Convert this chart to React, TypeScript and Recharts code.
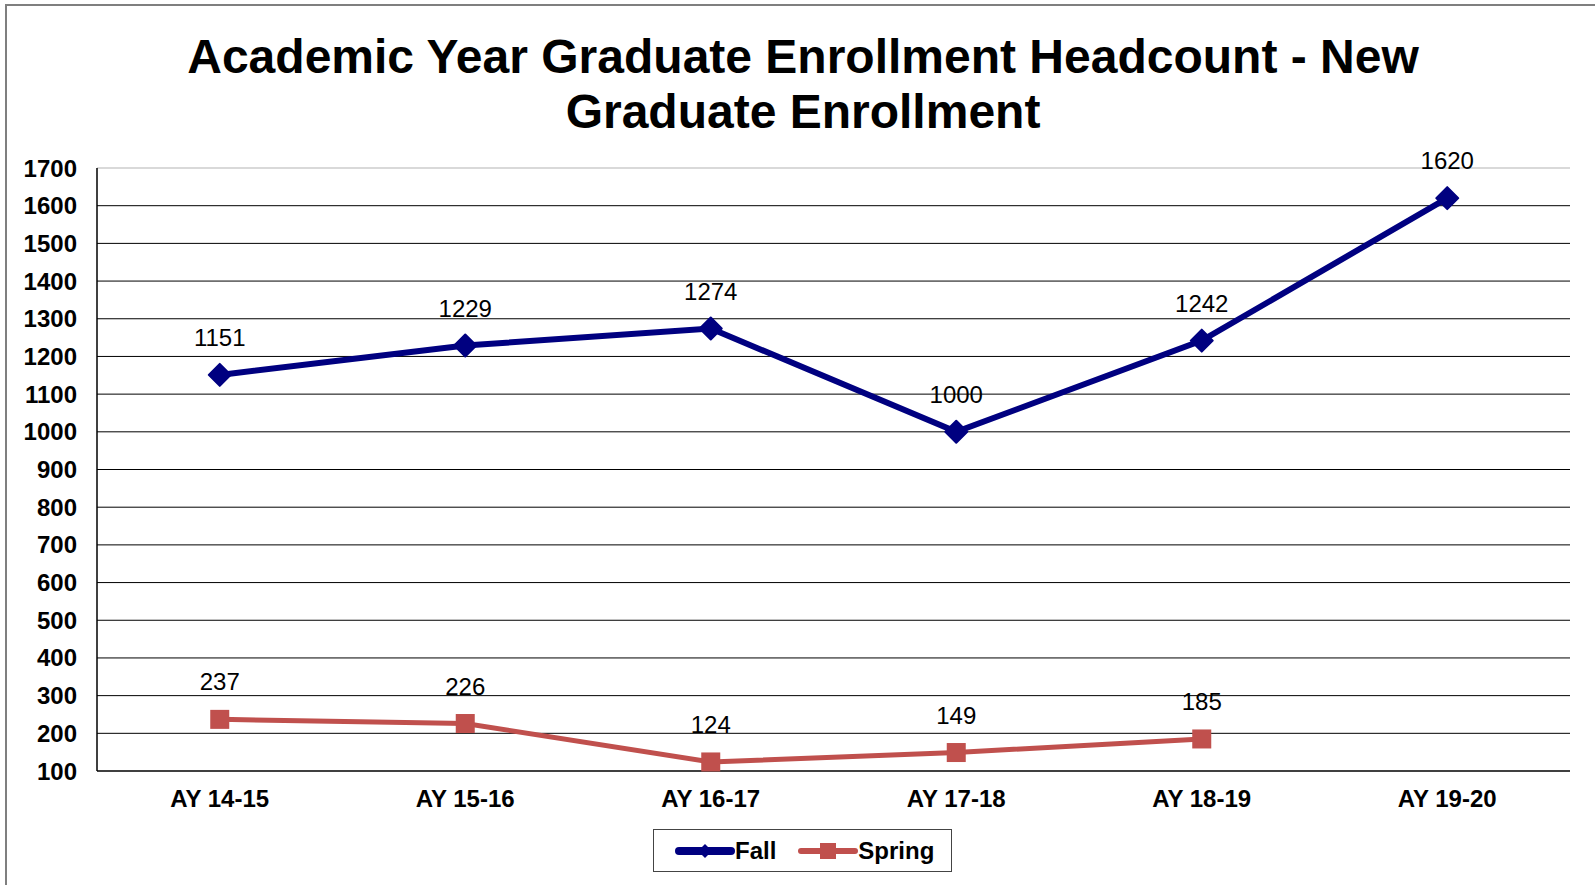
import React from "react";
import {
  LineChart,
  Line,
  XAxis,
  YAxis,
  CartesianGrid,
  LabelList,
} from "recharts";

const years = ["AY 14-15", "AY 15-16", "AY 16-17", "AY 17-18", "AY 18-19", "AY 19-20"];
const fall = [1151, 1229, 1274, 1000, 1242, 1620];
const spring: (number | null)[] = [237, 226, 124, 149, 185, null];
const yTicks = [100, 200, 300, 400, 500, 600, 700, 800, 900, 1000, 1100, 1200, 1300, 1400, 1500, 1600, 1700];
const gridValues = [200, 300, 400, 500, 600, 700, 800, 900, 1000, 1100, 1200, 1300, 1400, 1500, 1600];
const topValue = [1700];

const FALL_COLOR = "#000080";
const SPRING_COLOR = "#C0504D";
const FRAME_COLOR = "#d9d9d9";
const FONT = "'Liberation Sans', Arial, sans-serif";

const data = years.map((year, i) => ({ year, fall: fall[i], spring: spring[i] }));

// diamond marker for Fall
const Diamond = (props: any) => {
  const { cx, cy } = props;
  if (cx == null || cy == null) return null;
  const r = 11;
  return (
    <polygon
      points={`${cx},${cy - r} ${cx + r},${cy} ${cx},${cy + r} ${cx - r},${cy}`}
      fill={FALL_COLOR}
      stroke={FALL_COLOR}
      strokeWidth={2}
      strokeLinejoin="round"
    />
  );
};

// square marker for Spring
const Square = (props: any) => {
  const { cx, cy, value } = props;
  if (cx == null || cy == null || value == null) return null;
  const s = 19;
  return <rect x={cx - s / 2} y={cy - s / 2} width={s} height={s} fill={SPRING_COLOR} />;
};

export default function App() {
  return (
    <div
      style={{
        position: "absolute",
        left: 0,
        top: 0,
        width: 1595,
        height: 885,
        overflow: "hidden",
        background: "#fff",
        fontFamily: FONT,
      }}
    >
      <div
        style={{
          position: "absolute",
          left: 5,
          top: 4,
          width: 1620,
          height: 920,
          border: "2px solid #7f7f7f",
        }}
      />
      <div
        style={{
          position: "absolute",
          left: 0,
          top: 29,
          width: 1606,
          textAlign: "center",
          fontSize: 48,
          fontWeight: 700,
          lineHeight: "55px",
          color: "#000",
        }}
      >
        Academic Year Graduate Enrollment Headcount - New
        <br />
        Graduate Enrollment
      </div>
      <div style={{ position: "absolute", left: 0, top: 0 }}>
        <LineChart
          width={1595}
          height={885}
          data={data}
          margin={{ top: 168, right: 25, bottom: 74, left: 7 }}
        >
          {/* light frame on top and right of plot area */}
          <CartesianGrid
            vertical={false}
            horizontalValues={topValue}
            stroke={FRAME_COLOR}
            strokeWidth={2}
          />
          <CartesianGrid
            vertical={false}
            horizontalValues={gridValues}
            stroke="#000"
            strokeWidth={1}
          />
          <XAxis
            dataKey="year"
            height={40}
            padding={{ left: 122.75, right: 122.75 }}
            axisLine={{ stroke: "#000", strokeWidth: 1.5 }}
            tickLine={false}
            tickMargin={13}
            tick={{ fontSize: 24, fontWeight: 700, fill: "#000", fontFamily: FONT }}
          />
          <YAxis
            width={90}
            domain={[100, 1700]}
            ticks={yTicks}
            interval={0}
            axisLine={{ stroke: "#000", strokeWidth: 1.5 }}
            tickLine={false}
            tickMargin={14}
            tick={{ fontSize: 24, fontWeight: 700, fill: "#000", fontFamily: FONT }}
          />
          <YAxis
            yAxisId="frame"
            orientation="right"
            width={0}
            domain={[100, 1700]}
            tick={false}
            tickLine={false}
            axisLine={{ stroke: FRAME_COLOR, strokeWidth: 2 }}
          />
          <Line
            dataKey="fall"
            stroke={FALL_COLOR}
            strokeWidth={6}
            dot={<Diamond />}
            activeDot={false}
            isAnimationActive={false}
          >
            <LabelList
              dataKey="fall"
              position="top"
              offset={29}
              fill="#000"
              fontSize={24}
              fontFamily={FONT}
            />
          </Line>
          <Line
            dataKey="spring"
            stroke={SPRING_COLOR}
            strokeWidth={5}
            dot={<Square />}
            activeDot={false}
            connectNulls={false}
            isAnimationActive={false}
          >
            <LabelList
              dataKey="spring"
              position="top"
              offset={29}
              fill="#000"
              fontSize={24}
              fontFamily={FONT}
            />
          </Line>
        </LineChart>
      </div>
      <div
        style={{
          position: "absolute",
          left: 653,
          top: 829,
          width: 297,
          height: 41,
          border: "1.5px solid #444",
          display: "flex",
          alignItems: "center",
          fontSize: 24,
          fontWeight: 700,
          color: "#000",
        }}
      >
        <svg width={60} height={20} style={{ marginLeft: 21 }}>
          <line x1={4} y1={10} x2={56} y2={10} stroke={FALL_COLOR} strokeWidth={8} strokeLinecap="round" />
          <polygon points="30,3 37,10 30,17 23,10" fill={FALL_COLOR} />
        </svg>
        <span>Fall</span>
        <svg width={60} height={20} style={{ marginLeft: 22 }}>
          <line x1={3} y1={10} x2={57} y2={10} stroke={SPRING_COLOR} strokeWidth={6} strokeLinecap="round" />
          <rect x={22} y={2} width={16} height={16} fill={SPRING_COLOR} />
        </svg>
        <span>Spring</span>
      </div>
    </div>
  );
}
